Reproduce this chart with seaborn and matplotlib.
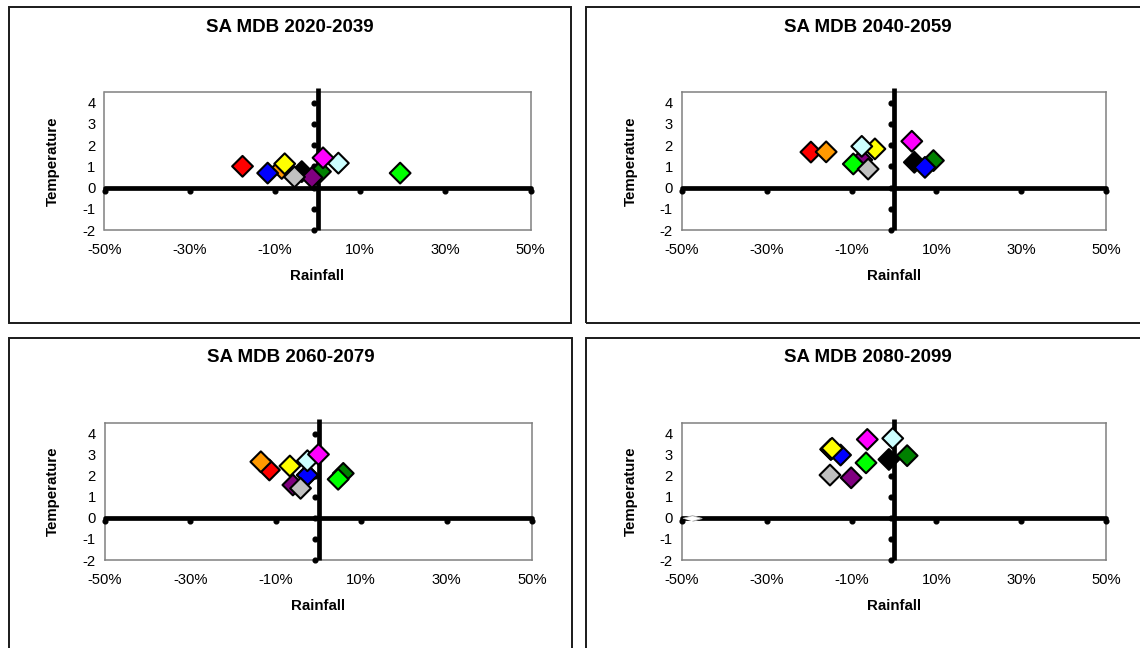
import matplotlib
matplotlib.use("Agg")
import numpy as np
import pandas as pd
import matplotlib.pyplot as plt
import matplotlib.transforms as mtransforms
from matplotlib.patches import Rectangle
from matplotlib.ticker import FuncFormatter, FixedLocator
import seaborn as sns

# ---------------- data ----------------
models = ["black", "darkgreen", "purple", "red", "orange", "blue",
          "lime", "silver", "yellow", "lightcyan", "magenta"]
model_colors = ["#000000", "#008000", "#800080", "#FF0000", "#FF9900", "#0000FF",
                "#00FF00", "#C0C0C0", "#FFFF00", "#CCFFFF", "#FF00FF"]

periods = ["2020-2039", "2040-2059", "2060-2079", "2080-2099"]

# rainfall change (%) per model, same order as `models`
rain_2020 = [-3.7, 0.7, -1.3, -17.6, -8.4, -11.7, 19.4, -5.4, -7.7, 4.9, 1.3]
temp_2020 = [0.75, 0.75, 0.47, 1.0, 0.9, 0.68, 0.68, 0.5, 1.12, 1.15, 1.4]

rain_2040 = [4.8, 9.3, -7.6, -19.6, -16.0, 7.3, -9.6, -6.1, -4.5, -7.6, 4.2]
temp_2040 = [1.19, 1.27, 1.3, 1.67, 1.68, 0.95, 1.11, 0.87, 1.82, 1.94, 2.18]

rain_2060 = [-2.6, 5.8, -6.0, -11.5, -13.5, -2.6, 4.6, -4.2, -6.7, -2.6, 0.0]
temp_2060 = [2.03, 2.11, 1.56, 2.27, 2.66, 2.03, 1.83, 1.40, 2.46, 2.71, 3.01]

rain_2080 = [-1.2, 3.1, -10.1, -14.9, -14.9, -12.6, -6.6, -15.1, -14.6, -0.3, -6.3]
temp_2080 = [2.77, 2.95, 1.90, 3.25, 3.25, 2.98, 2.61, 2.03, 3.30, 3.77, 3.72]

# stray blank point in the last panel
extra_rain_2080 = [-47.6]
extra_temp_2080 = [0.0]

x_ticks = [-50, -30, -10, 10, 30, 50]
y_ticks = [-2, -1, 0, 1, 2, 3, 4]
x_min, x_max = -50, 50
y_min, y_max = -2, 4.5

period_data = {
    "2020-2039": (rain_2020, temp_2020),
    "2040-2059": (rain_2040, temp_2040),
    "2060-2079": (rain_2060, temp_2060),
    "2080-2099": (rain_2080, temp_2080),
}

# ---------------- style ----------------
sns.set_theme(style="white")
plt.rcParams["font.family"] = ["Liberation Sans", "DejaVu Sans"]
plt.rcParams["axes.unicode_minus"] = False

W, H = 1140, 648
fig = plt.figure(figsize=(W / 100, H / 100), dpi=100)
fig.patch.set_facecolor("white")


def fig_rect(x0, y0, x1, y1):
    return [x0 / W, 1 - y1 / H, (x1 - x0) / W, (y1 - y0) / H]


# panel boxes and plot areas (pixel layout)
panel_boxes = [(9, 7, 571.5, 323), (586, 7, 1149, 323),
               (9, 338, 572, 654), (586, 338, 1149, 654)]
plot_areas = [(104.5, 92, 530.5, 230), (682, 92, 1106, 230),
              (105, 423, 532, 560), (682, 423, 1106, 560)]

palette = dict(zip(models, model_colors))

for i, period in enumerate(periods):
    bx0, by0, bx1, by1 = panel_boxes[i]
    fig.patches.append(Rectangle((bx0 / W, 1 - by1 / H), (bx1 - bx0) / W, (by1 - by0) / H,
                                 transform=fig.transFigure, fill=False,
                                 edgecolor="#1a1a1a", linewidth=1.4, zorder=0))
    fig.text((bx0 + bx1) / 2 / W, 1 - (by0 + 20) / H, f"SA MDB {period}",
             ha="center", va="center", fontsize=13.5, fontweight="bold", color="black")

    ax = fig.add_axes(fig_rect(*plot_areas[i]))
    rain, temp = period_data[period]
    df = pd.DataFrame({"model": models, "rain": rain, "temp": temp})

    # zero axes lines
    ax.plot([x_min, x_max], [0, 0], color="black", lw=3.4,
            solid_capstyle="round", clip_on=False, zorder=2)
    ax.plot([0, 0], [y_min, y_max + 0.18], color="black", lw=3.4,
            solid_capstyle="butt", clip_on=False, zorder=2)
    # tick dots on zero axes
    tx = mtransforms.offset_copy(ax.transData, fig=fig, x=0, y=-3.5, units="dots")
    ax.plot(x_ticks, np.zeros(len(x_ticks)), "o", ms=3.4, color="black",
            transform=tx, clip_on=False, zorder=2)
    ty = mtransforms.offset_copy(ax.transData, fig=fig, x=-3.5, y=0, units="dots")
    ax.plot(np.zeros(len(y_ticks)), y_ticks, "o", ms=3.4, color="black",
            transform=ty, clip_on=False, zorder=2)

    if period == "2080-2099":
        edf = pd.DataFrame({"rain": extra_rain_2080, "temp": extra_temp_2080})
        sns.scatterplot(data=edf, x="rain", y="temp", ax=ax,
                        marker=[(-1, 0), (0, 0.3), (1, 0), (0, -0.3)],
                        s=190, color="white", edgecolor="#b0b0b0", linewidth=0.7,
                        legend=False, zorder=3, clip_on=False)

    sns.scatterplot(data=df, x="rain", y="temp", hue="model", hue_order=models,
                    palette=palette, marker="D", s=112, edgecolor="black",
                    linewidth=1.5, legend=False, ax=ax, zorder=4)

    ax.set_xlim(x_min, x_max)
    ax.set_ylim(y_min, y_max)
    ax.xaxis.set_major_locator(FixedLocator(x_ticks))
    ax.yaxis.set_major_locator(FixedLocator(y_ticks))
    ax.xaxis.set_major_formatter(FuncFormatter(lambda v, p: f"{v:.0f}%"))
    ax.yaxis.set_major_formatter(FuncFormatter(lambda v, p: f"{v:.0f}"))
    ax.tick_params(axis="x", length=0, pad=9.5, labelsize=10.6, labelcolor="black")
    ax.tick_params(axis="y", length=0, pad=6.5, labelsize=10.6, labelcolor="black")
    for sp in ax.spines.values():
        sp.set_color("#808080")
        sp.set_linewidth(1.1)
        sp.set_zorder(1)
    ax.set_facecolor("white")
    ax.grid(False)

    ax.set_xlabel("Rainfall", fontsize=10.8, fontweight="bold", color="black")
    ax.set_ylabel("Temperature", fontsize=10.8, fontweight="bold", color="black")
    ax.xaxis.label.set_va("center")
    ax.yaxis.label.set_va("center")
    ax.xaxis.set_label_coords(0.5, -0.333)
    ax.yaxis.set_label_coords(-0.1216, 0.5)

fig.savefig("out.png", dpi=100, facecolor="white")
